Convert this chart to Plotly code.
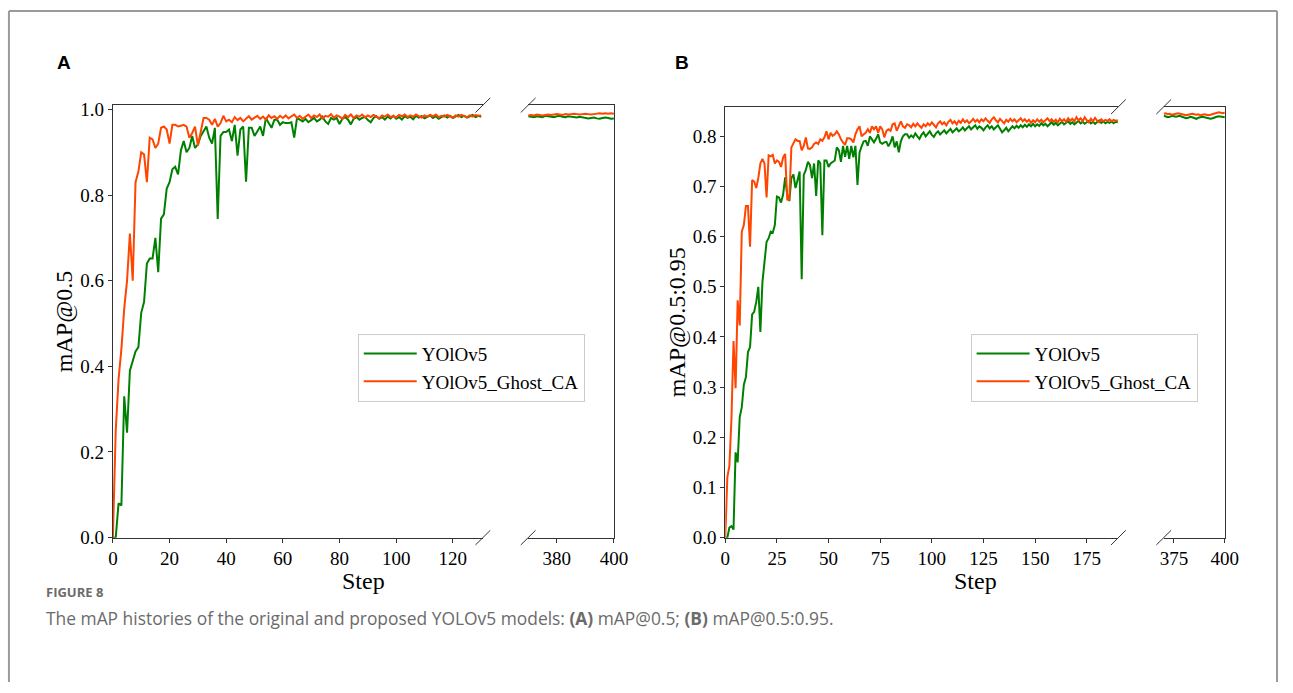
import plotly.graph_objects as go

W, H = 1293, 693

# ---------------- data ----------------
SERIES_NAMES = ["YOlOv5", "YOlOv5_Ghost_CA"]

# Panel A: mAP@0.5, steps 0..130 (main) and 370..400 (tail)
A_GREEN = [0.0, 0.0, 0.08, 0.075, 0.33, 0.245, 0.39, 0.415, 0.435, 0.445,
           0.525, 0.55, 0.64, 0.652, 0.652, 0.70, 0.62, 0.745, 0.755, 0.815,
           0.83, 0.86, 0.866, 0.848, 0.904, 0.926, 0.90, 0.91, 0.938, 0.91,
           0.918, 0.938, 0.949, 0.96, 0.934, 0.92, 0.957, 0.744, 0.938, 0.947,
           0.947, 0.953, 0.926, 0.964, 0.892, 0.953, 0.96, 0.831, 0.957, 0.957,
           0.938, 0.949, 0.96, 0.938, 0.98, 0.968, 0.957, 0.976, 0.976, 0.964,
           0.97, 0.968, 0.968, 0.97, 0.934, 0.98, 0.976, 0.972, 0.978, 0.97,
           0.975, 0.98, 0.972, 0.976, 0.983, 0.972, 0.966, 0.98, 0.976, 0.98,
           0.966, 0.978, 0.982, 0.976, 0.965, 0.978, 0.982, 0.976, 0.98, 0.983,
           0.975, 0.97, 0.98, 0.984, 0.978, 0.982, 0.976, 0.983, 0.979, 0.985,
           0.978, 0.982, 0.976, 0.984, 0.98, 0.983, 0.977, 0.985, 0.981, 0.984,
           0.979, 0.983, 0.986, 0.98, 0.984, 0.978, 0.983, 0.986, 0.981, 0.985,
           0.98, 0.984, 0.987, 0.982, 0.985, 0.981, 0.984, 0.987, 0.982, 0.985, 0.983]
A_ORANGE = [0.0, 0.25, 0.37, 0.44, 0.535, 0.60, 0.71, 0.60, 0.83, 0.855,
            0.90, 0.895, 0.83, 0.934, 0.93, 0.91, 0.92, 0.957, 0.96, 0.953,
            0.92, 0.964, 0.964, 0.96, 0.962, 0.964, 0.96, 0.934, 0.945, 0.96,
            0.915, 0.95, 0.98, 0.98, 0.976, 0.964, 0.978, 0.96, 0.968, 0.985,
            0.972, 0.976, 0.97, 0.982, 0.975, 0.98, 0.972, 0.978, 0.984, 0.976,
            0.98, 0.985, 0.978, 0.983, 0.976, 0.986, 0.98, 0.984, 0.978, 0.985,
            0.98, 0.986, 0.979, 0.984, 0.988, 0.98, 0.985, 0.978, 0.984, 0.988,
            0.98, 0.986, 0.982, 0.988, 0.979, 0.985, 0.983, 0.989, 0.981, 0.986,
            0.983, 0.978, 0.987, 0.982, 0.988, 0.98, 0.986, 0.983, 0.988, 0.981,
            0.986, 0.982, 0.987, 0.984, 0.979, 0.986, 0.983, 0.988, 0.982, 0.985,
            0.981, 0.987, 0.984, 0.988, 0.982, 0.986, 0.983, 0.988, 0.984, 0.981,
            0.986, 0.983, 0.987, 0.984, 0.988, 0.982, 0.985, 0.983, 0.987, 0.984,
            0.981, 0.986, 0.983, 0.987, 0.984, 0.982, 0.986, 0.983, 0.987, 0.985, 0.986]
A_TAIL_GREEN = [0.984, 0.983, 0.982, 0.984, 0.983, 0.982, 0.985, 0.984, 0.983, 0.982,
                0.984, 0.985, 0.983, 0.982, 0.984, 0.983, 0.982, 0.981, 0.983, 0.982,
                0.98, 0.979, 0.98, 0.981, 0.979, 0.978, 0.98, 0.981, 0.98, 0.978, 0.979]
A_TAIL_ORANGE = [0.986, 0.987, 0.986, 0.988, 0.987, 0.986, 0.987, 0.988, 0.987, 0.988,
                 0.989, 0.988, 0.987, 0.989, 0.988, 0.989, 0.99, 0.989, 0.988, 0.989,
                 0.99, 0.989, 0.988, 0.989, 0.99, 0.991, 0.99, 0.991, 0.99, 0.991, 0.99]

# Panel B: mAP@0.5:0.95, steps 0..190 (main) and 370..400 (tail)
B_GREEN = [0.0, 0.0, 0.02, 0.023, 0.016, 0.17, 0.15, 0.24, 0.26, 0.305,
           0.32, 0.37, 0.38, 0.445, 0.45, 0.47, 0.50, 0.41, 0.51, 0.548,
           0.59, 0.597, 0.61, 0.608, 0.623, 0.68, 0.678, 0.668, 0.684, 0.718,
           0.684, 0.671, 0.717, 0.724, 0.697, 0.713, 0.73, 0.515, 0.723, 0.733,
           0.749, 0.743, 0.717, 0.746, 0.681, 0.752, 0.746, 0.603, 0.752, 0.752,
           0.739, 0.746, 0.749, 0.752, 0.778, 0.772, 0.749, 0.781, 0.759, 0.781,
           0.755, 0.781, 0.758, 0.781, 0.703, 0.768, 0.78, 0.79, 0.791, 0.781,
           0.80, 0.795, 0.788, 0.795, 0.804, 0.788, 0.785, 0.788, 0.789, 0.78,
           0.788, 0.80, 0.778, 0.79, 0.768, 0.79, 0.80, 0.804, 0.804,
           0.797, 0.802, 0.798, 0.806, 0.80, 0.795, 0.803, 0.808, 0.80, 0.805,
           0.81, 0.803, 0.799, 0.806, 0.81, 0.804, 0.808, 0.812, 0.806, 0.81,
           0.815, 0.808, 0.812, 0.816, 0.81, 0.813, 0.818, 0.812, 0.816, 0.82,
           0.814, 0.818, 0.822, 0.815, 0.82, 0.817, 0.812, 0.818, 0.822, 0.816,
           0.82, 0.814, 0.818, 0.822, 0.815, 0.808, 0.812, 0.817, 0.81, 0.815,
           0.82, 0.816, 0.821, 0.817, 0.822, 0.818, 0.823, 0.819, 0.824, 0.82,
           0.825, 0.82, 0.824, 0.821, 0.826, 0.822, 0.825, 0.82, 0.824, 0.828,
           0.823, 0.827, 0.822, 0.826, 0.829, 0.824, 0.827, 0.83, 0.825, 0.828,
           0.824, 0.827, 0.831, 0.826, 0.829, 0.825, 0.828, 0.831, 0.826, 0.829,
           0.825, 0.828, 0.832, 0.827, 0.83, 0.826, 0.829,
           0.827, 0.83, 0.826, 0.829, 0.828]
B_ORANGE = [0.0, 0.12, 0.143, 0.237, 0.392, 0.298, 0.473, 0.423, 0.61, 0.623,
            0.661, 0.661, 0.58, 0.713, 0.71, 0.697, 0.717, 0.746, 0.755, 0.746,
            0.678, 0.762, 0.76, 0.763, 0.746, 0.752, 0.749, 0.739, 0.758, 0.765,
            0.674, 0.674, 0.778, 0.785, 0.794, 0.791, 0.791, 0.772, 0.781, 0.798,
            0.776, 0.775, 0.778, 0.785, 0.788, 0.785, 0.794, 0.791, 0.798, 0.81,
            0.794, 0.807, 0.801, 0.804, 0.81, 0.804, 0.794, 0.788, 0.783, 0.796,
            0.796, 0.794, 0.788, 0.804, 0.814, 0.82, 0.80, 0.804, 0.807, 0.814,
            0.807, 0.82, 0.814, 0.82, 0.807, 0.82, 0.814, 0.798, 0.811, 0.814,
            0.811, 0.824, 0.826, 0.811, 0.82, 0.83, 0.82, 0.817, 0.824,
            0.822, 0.818, 0.825, 0.82, 0.826, 0.821, 0.817, 0.824, 0.82, 0.826,
            0.822, 0.828, 0.823, 0.818, 0.826, 0.83, 0.824, 0.828, 0.822, 0.829,
            0.833, 0.826, 0.83, 0.824, 0.831, 0.827, 0.834, 0.828, 0.832, 0.826,
            0.83, 0.835, 0.829, 0.833, 0.828, 0.834, 0.83, 0.836, 0.831, 0.827,
            0.834, 0.838, 0.832, 0.828, 0.835, 0.83, 0.826, 0.833, 0.829, 0.835,
            0.83, 0.834, 0.828, 0.832, 0.836, 0.83, 0.834, 0.829, 0.833, 0.827,
            0.832, 0.828, 0.834, 0.829, 0.833, 0.828, 0.832, 0.836, 0.83, 0.834,
            0.829, 0.833, 0.828, 0.835, 0.83, 0.834, 0.829, 0.836, 0.831, 0.835,
            0.83, 0.838, 0.832, 0.836, 0.83, 0.838, 0.832, 0.828, 0.835, 0.83,
            0.837, 0.831, 0.828, 0.834, 0.83, 0.833, 0.831,
            0.834, 0.83, 0.833, 0.831, 0.832]
B_TAIL_GREEN = [0.841, 0.840, 0.838, 0.839, 0.841, 0.840, 0.839, 0.840, 0.841, 0.839,
                0.838, 0.836, 0.837, 0.839, 0.838, 0.836, 0.835, 0.837, 0.838, 0.839,
                0.838, 0.837, 0.836, 0.835, 0.836, 0.838, 0.839, 0.840, 0.839, 0.838, 0.838]
B_TAIL_ORANGE = [0.845, 0.846, 0.844, 0.845, 0.843, 0.844, 0.845, 0.846, 0.845, 0.844,
                 0.843, 0.842, 0.843, 0.844, 0.845, 0.844, 0.843, 0.844, 0.842, 0.843,
                 0.844, 0.843, 0.842, 0.843, 0.844, 0.845, 0.847, 0.848, 0.847, 0.846, 0.847]

TAIL_START = 370
A_XTICKS_MAIN = [0, 20, 40, 60, 80, 100, 120]
A_XTICKS_TAIL = [380, 400]
B_XTICKS_MAIN = [0, 25, 50, 75, 100, 125, 150, 175]
B_XTICKS_TAIL = [375, 400]

GREEN = "#008000"
ORANGE = "#FF4500"

# ---------------- helpers ----------------
def px(x):
    return x / W

def py(y):
    return 1 - y / H

SERIF = "Liberation Serif"
AX_COL = "#333333"

fig = go.Figure()

def add_pair(green, orange, xstart, xa, ya, legend, show):
    xs = list(range(xstart, xstart + len(green)))
    fig.add_trace(go.Scatter(x=xs, y=green, mode="lines", name=SERIES_NAMES[0],
                             line=dict(color=GREEN, width=2), xaxis=xa, yaxis=ya,
                             legend=legend, showlegend=show))
    xs2 = list(range(xstart, xstart + len(orange)))
    fig.add_trace(go.Scatter(x=xs2, y=orange, mode="lines", name=SERIES_NAMES[1],
                             line=dict(color=ORANGE, width=2), xaxis=xa, yaxis=ya,
                             legend=legend, showlegend=show))

add_pair(A_GREEN, A_ORANGE, 0, "x", "y", "legend", True)
add_pair(A_TAIL_GREEN, A_TAIL_ORANGE, TAIL_START, "x2", "y2", "legend", False)
add_pair(B_GREEN, B_ORANGE, 0, "x3", "y3", "legend2", True)
add_pair(B_TAIL_GREEN, B_TAIL_ORANGE, TAIL_START, "x4", "y4", "legend2", False)

tickfont = dict(family=SERIF, size=19, color="black")
common_x = dict(showline=True, linecolor=AX_COL, linewidth=1, mirror=True,
                ticks="outside", ticklen=4, tickcolor=AX_COL, tickwidth=1,
                showgrid=False, zeroline=False, tickfont=tickfont)

yA_dom = [py(545), py(101.7)]
yB_dom = [py(545), py(103.3)]

legend_common = dict(xanchor="left", yanchor="top", bgcolor="white",
                     bordercolor="#cccccc", borderwidth=1, itemwidth=53,
                     font=dict(family=SERIF, size=19, color="black"), tracegroupgap=0)

layout = dict(
    autosize=True,
    margin=dict(l=0, r=0, t=0, b=0, pad=0),
    paper_bgcolor="white", plot_bgcolor="white",
    xaxis=dict(domain=[px(109.5), px(485)], range=[0, 130.6], tickvals=A_XTICKS_MAIN,
               anchor="y", **common_x),
    xaxis2=dict(domain=[px(531), px(618)], range=[370, 400], tickvals=A_XTICKS_TAIL,
                anchor="y2", **common_x),
    xaxis3=dict(domain=[px(731), px(1130)], range=[0, 190.3], tickvals=B_XTICKS_MAIN,
                anchor="y3", **common_x),
    xaxis4=dict(domain=[px(1176), px(1238)], range=[370, 400], tickvals=B_XTICKS_TAIL,
                anchor="y4", **common_x),
    yaxis=dict(domain=yA_dom, range=[0, 1.0098], dtick=0.2, tick0=0, tickformat=".1f",
               anchor="x", showline=True, linecolor=AX_COL, linewidth=1,
               ticks="outside", ticklen=4, tickcolor=AX_COL, showgrid=False,
               zeroline=False, tickfont=tickfont,
               title=dict(text="mAP@0.5", font=dict(family=SERIF, size=24, color="black"),
                          standoff=0)),
    yaxis2=dict(domain=yA_dom, range=[0, 1.0098], anchor="x2", side="right",
                showline=True, linecolor=AX_COL, linewidth=1, ticks="",
                showticklabels=False, showgrid=False, zeroline=False),
    yaxis3=dict(domain=yB_dom, range=[0, 0.859], dtick=0.1, tick0=0, tickformat=".1f",
                anchor="x3", showline=True, linecolor=AX_COL, linewidth=1,
                ticks="outside", ticklen=4, tickcolor=AX_COL, showgrid=False,
                zeroline=False, tickfont=tickfont,
                title=dict(text="mAP@0.5:0.95", font=dict(family=SERIF, size=24, color="black"),
                           standoff=0)),
    yaxis4=dict(domain=yB_dom, range=[0, 0.859], anchor="x4", side="right",
                showline=True, linecolor=AX_COL, linewidth=1, ticks="",
                showticklabels=False, showgrid=False, zeroline=False),
    legend=dict(x=px(358), y=py(336), **legend_common),
    legend2=dict(x=px(980), y=py(336), **legend_common),
)
fig.update_layout(**layout)

# break marks and frame
shapes = []
def slash(cx, cy, d=7.5):
    shapes.append(dict(type="line", xref="paper", yref="paper",
                       x0=px(cx - d), y0=py(cy + d), x1=px(cx + d), y1=py(cy - d),
                       line=dict(color=AX_COL, width=1)))
for cx in (485, 531):
    for cy in (101.7, 545):
        slash(cx, cy)
for cx in (1130, 1176):
    for cy in (103.3, 545):
        slash(cx, cy)

FRAME = "#9a9a9a"
shapes.append(dict(type="line", xref="paper", yref="paper", x0=px(4), x1=px(1291),
                   y0=py(5), y1=py(5), line=dict(color=FRAME, width=2)))
shapes.append(dict(type="line", xref="paper", yref="paper", x0=px(4), x1=px(4),
                   y0=py(5), y1=0, line=dict(color=FRAME, width=2)))
shapes.append(dict(type="line", xref="paper", yref="paper", x0=px(1291), x1=px(1291),
                   y0=py(5), y1=0, line=dict(color=FRAME, width=2)))
fig.update_layout(shapes=shapes)

def note(text, x, y, size, family, color="black", xanchor="center"):
    return dict(text=text, x=px(x), y=py(y), xref="paper", yref="paper",
                xanchor=xanchor, yanchor="middle", showarrow=False,
                font=dict(family=family, size=size, color=color))

ann = [
    note("<b>A</b>", 60, 58, 19, "Liberation Sans"),
    note("<b>B</b>", 687, 58, 19, "Liberation Sans"),
    note("Step", 363.5, 589, 24, SERIF),
    note("Step", 984.5, 589, 24, SERIF),
    note("<b>FIGURE 8</b>", 40, 601, 13, "Open Sans", "#6b6b6b", "left"),
    note("The mAP histories of the original and proposed YOLOv5 models: "
         "<b>(A)</b> mAP@0.5; <b>(B)</b> mAP@0.5:0.95.",
         40, 627, 17.4, "Open Sans", "#6b6b6b", "left"),
]
fig.update_layout(annotations=ann)

fig.write_html("out.html",
               config={"displayModeBar": False, "responsive": True},
               default_width="100vw", default_height="100vh",
               post_script="document.body.style.margin='0';"
                           "document.body.style.overflow='hidden';")
